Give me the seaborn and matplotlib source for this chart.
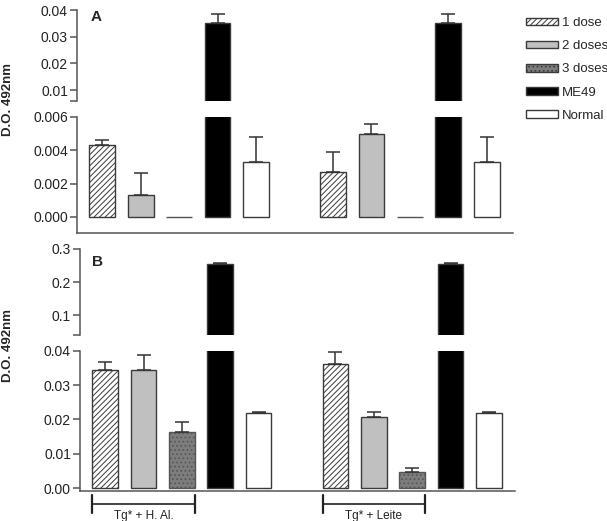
import numpy as np
import pandas as pd
import matplotlib
matplotlib.use('Agg')
import matplotlib.pyplot as plt
from matplotlib.patches import Patch
import seaborn as sns

sns.set_style('ticks')
plt.rcParams['font.family'] = ['Liberation Sans', 'DejaVu Sans']
plt.rcParams['hatch.linewidth'] = 0.7

# data
doses = ['1 dose', '2 doses', '3 doses', 'ME49', 'Normal']
groups = ['Tg* + H. Al.', 'Tg* + Leite']
positions = [0, 1, 2, 3, 4, 6, 7, 8, 9, 10]

a_mean_hal = [0.0043, 0.0013, 0.0, 0.0352, 0.0033]
a_err_hal = [0.00035, 0.00135, 0.0, 0.0034, 0.0015]
a_mean_leite = [0.0027, 0.0050, 0.0, 0.0352, 0.0033]
a_err_leite = [0.0012, 0.0006, 0.0, 0.0034, 0.0015]

b_mean_hal = [0.0345, 0.0345, 0.0163, 0.254, 0.0218]
b_err_hal = [0.0021, 0.0042, 0.0030, 0.0036, 0.0003]
b_mean_leite = [0.0361, 0.0207, 0.0048, 0.254, 0.0218]
b_err_leite = [0.0034, 0.0015, 0.0012, 0.0036, 0.0003]

a_ticks_top = [0.01, 0.02, 0.03, 0.04]
a_ticks_low = [0.000, 0.002, 0.004, 0.006]
b_ticks_top = [0.1, 0.2, 0.3]
b_ticks_low = [0.00, 0.01, 0.02, 0.03, 0.04]

faces = ['white', '#c0c0c0', '#7d7d7d', 'black', 'white']
hatches = ['//////', None, '....', None, None]
edge = '#3a3a3a'
spine_col = '#555555'

W, H = 607, 521
fig = plt.figure(figsize=(W / 100, H / 100), dpi=100)


def px_axes(x0, x1, ytop, ybot):
    return fig.add_axes([x0 / W, 1 - ybot / H, (x1 - x0) / W, (ybot - ytop) / H])


def draw_bars(ax, means, errs, lo, hi):
    df = pd.DataFrame({'pos': positions, 'val': means,
                       'dose': doses * 2})
    sns.barplot(data=df, x='pos', y='val', native_scale=True, width=0.67,
                errorbar=None, color='white', ax=ax)
    bars = sorted(ax.patches, key=lambda p: p.get_x())
    for i, p in enumerate(bars):
        k = i % 5
        p.set_facecolor(faces[k])
        p.set_edgecolor(edge if k != 2 else '#555555')
        p.set_linewidth(1.0)
        if hatches[k]:
            p.set_hatch(hatches[k])
    pos = np.array(positions)
    m = np.array(means)
    e = np.array(errs)
    # only error bars that fall inside this part of the broken axis
    ok = (e > 0) & (m + e > lo) & (m < hi)
    ax.errorbar(pos[ok], m[ok], yerr=[np.zeros(ok.sum()), e[ok]], fmt='none',
                ecolor='#333333', elinewidth=1.1, capsize=5, capthick=1.1, zorder=1)
    ax.set_ylim(lo, hi)
    ax.set_xlim(-0.655, 10.68)
    ax.set_xlabel('')
    ax.set_ylabel('')
    ax.set_xticks([])


def style_axis(ax, top_part):
    sns.despine(ax=ax, right=True, top=True, bottom=top_part)
    for s in ax.spines.values():
        s.set_color(spine_col)
        s.set_linewidth(1.1)
    ax.tick_params(axis='y', length=5, width=1.1, color=spine_col, pad=1.5,
                   labelsize=10, labelcolor='#222222')
    ax.set_facecolor('none')


# panel A
a_top = px_axes(77, 513, 10, 101)
a_low = px_axes(77, 513, 117, 233)
draw_bars(a_top, a_mean_hal + a_mean_leite, a_err_hal + a_err_leite, 0.0059, 0.04)
draw_bars(a_low, a_mean_hal + a_mean_leite, a_err_hal + a_err_leite, -0.00096, 0.006)
a_top.set_yticks([0.00595] + a_ticks_top)
a_top.set_yticklabels([''] + ['0.01', '0.02', '0.03', '0.04'])
a_low.set_yticks(a_ticks_low)
a_low.set_yticklabels(['0.000', '0.002', '0.004', '0.006'])
style_axis(a_top, True)
style_axis(a_low, False)

# panel B
b_top = px_axes(80, 515, 249, 335)
b_low = px_axes(80, 515, 350.7, 491)
draw_bars(b_top, b_mean_hal + b_mean_leite, b_err_hal + b_err_leite, 0.041, 0.3)
draw_bars(b_low, b_mean_hal + b_mean_leite, b_err_hal + b_err_leite, -0.0008, 0.04)
b_top.set_yticks([0.0412] + b_ticks_top)
b_top.set_yticklabels([''] + ['0.1', '0.2', '0.3'])
b_low.set_yticks(b_ticks_low)
b_low.set_yticklabels(['0.00', '0.01', '0.02', '0.03', '0.04'])
style_axis(b_top, True)
style_axis(b_low, False)

# panel letters and y labels
fig.text(96 / W, 1 - 17 / H, 'A', fontsize=11, fontweight='bold', ha='center', va='center')
fig.text(98 / W, 1 - 262 / H, 'B', fontsize=11, fontweight='bold', ha='center', va='center')
fig.text(8 / W, 1 - 100 / H, 'D.O. 492nm', rotation=90, fontsize=9.5,
         fontweight='bold', ha='center', va='center')
fig.text(8 / W, 1 - 345 / H, 'D.O. 492nm', rotation=90, fontsize=9.5,
         fontweight='bold', ha='center', va='center')

# group brackets under panel B
tr = b_low.get_xaxis_transform()
for g, start in zip(groups, [0, 6]):
    x0, x1 = start - 0.335, start + 2.335
    b_low.plot([x0, x1], [-0.093, -0.093], color='#222222', lw=1.2,
               transform=tr, clip_on=False)
    for xx in (x0, x1):
        b_low.plot([xx, xx], [-0.03, -0.157], color='#222222', lw=1.6,
                   transform=tr, clip_on=False)
    b_low.text(start + 1, -0.135, g, fontsize=8.5, ha='center', va='top',
               transform=tr, color='#222222')

# legend
handles = [Patch(facecolor=faces[k], edgecolor=edge, hatch=hatches[k], lw=1.0)
           for k in range(5)]
fig.legend(handles, doses, loc='upper left', bbox_to_anchor=(526 / W, 1 - 17 / H),
           frameon=False, fontsize=9.5, handlelength=2.4, handleheight=0.5,
           handletextpad=0.3, labelspacing=0.85, borderpad=0, borderaxespad=0)

fig.savefig('out.png', dpi=100)
